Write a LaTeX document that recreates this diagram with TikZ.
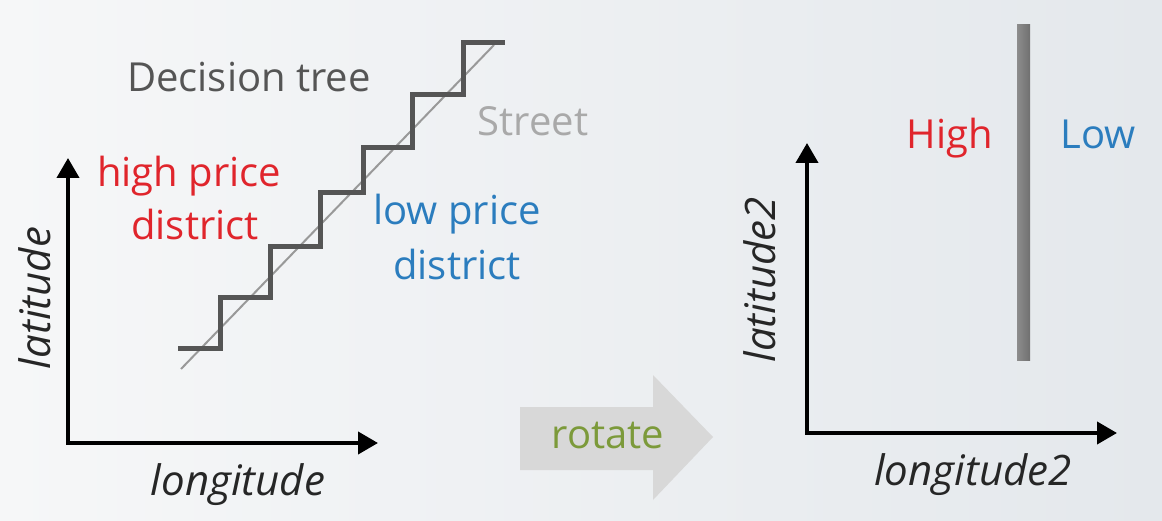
\documentclass[tikz,border=0pt]{standalone}
\usepackage{fontspec}
\setmainfont{Open Sans}
\usetikzlibrary{arrows.meta}
\definecolor{bgL}{HTML}{F6F7F8}
\definecolor{bgR}{HTML}{E4E8EC}
\definecolor{txtgray}{HTML}{555555}
\definecolor{streetgray}{HTML}{A9A9A9}
\definecolor{redtxt}{HTML}{E0252C}
\definecolor{bluetxt}{HTML}{2B7DBE}
\definecolor{greentxt}{HTML}{7C9A3A}
\definecolor{arrowgray}{HTML}{D8D8D8}
\definecolor{bargray}{HTML}{707070}
\tikzset{
  lbl/.style={anchor=base, inner sep=0pt, font=\fontsize{40}{46}\selectfont},
  axlbl/.style={anchor=base, inner sep=0pt, font=\fontsize{42}{48}\selectfont\itshape, text=black!85},
  axis/.style={line width=4pt, -{Triangle[length=20pt,width=22pt]}},
  stair/.style={line width=5pt, draw=txtgray, line join=miter},
  streetline/.style={line width=2pt, draw=black!40},
}
\begin{document}
\begin{tikzpicture}[x=1pt,y=-1pt]
\shade[left color=bgL, right color=bgR] (0,0) rectangle (1162,521);
\useasboundingbox (0,0) rectangle (1162,521);

% left axes
\coordinate (o1) at (68,443);
\coordinate (y1) at (68,158);
\coordinate (x1) at (378,443);
\draw[axis] ([yshift=2pt]o1) -- (y1);
\draw[axis] ([xshift=-2pt]o1) -- (x1);
\node[axlbl, rotate=90] (lat) at (50,298) {latitude};
\node[axlbl] (lon) at (238,495) {longitude};

% street and decision tree staircase
\coordinate (s0) at (181,369);
\coordinate (s1) at (494,45);
\draw[streetline] (s0) -- (s1);
\draw[stair] (178,348) -- (220,348) |- (270,298) |- (320,247) |- (363,193) |- (412,148) |- (463,95) |- (505,43);

\node[lbl, text=txtgray] (dt) at (249,92) {Decision tree};
\node[lbl, text=streetgray] (st) at (533,136) {Street};
\node[lbl, text=redtxt] (hp1) at (189,187) {high price};
\node[lbl, text=redtxt] (hp2) at (195,240) {district};
\node[lbl, text=bluetxt] (lp1) at (457,225) {low price};
\node[lbl, text=bluetxt] (lp2) at (457,280) {district};

% rotate arrow
\fill[arrowgray] (520,407) -- (653,407) -- (653,375) -- (713,437) -- (653,500) -- (653,470) -- (520,470) -- cycle;
\node[lbl, text=greentxt] (rot) at (608,448) {rotate};

% right axes
\coordinate (o2) at (807,433);
\coordinate (y2) at (807,143);
\coordinate (x2) at (1117,433);
\draw[axis] ([yshift=2pt]o2) -- (y2);
\draw[axis] ([xshift=-2pt]o2) -- (x2);
\node[axlbl, rotate=90] (lat2) at (775,280) {latitude2};
\node[axlbl] (lon2) at (973,485) {longitude2};

% vertical boundary
\shade[left color=bargray!80, right color=bargray] (1017,25) rectangle (1030,360);
\node[lbl, text=redtxt] (hi) at (950,149) {High};
\node[lbl, text=bluetxt] (lo) at (1098,149) {Low};
\end{tikzpicture}
\end{document}
